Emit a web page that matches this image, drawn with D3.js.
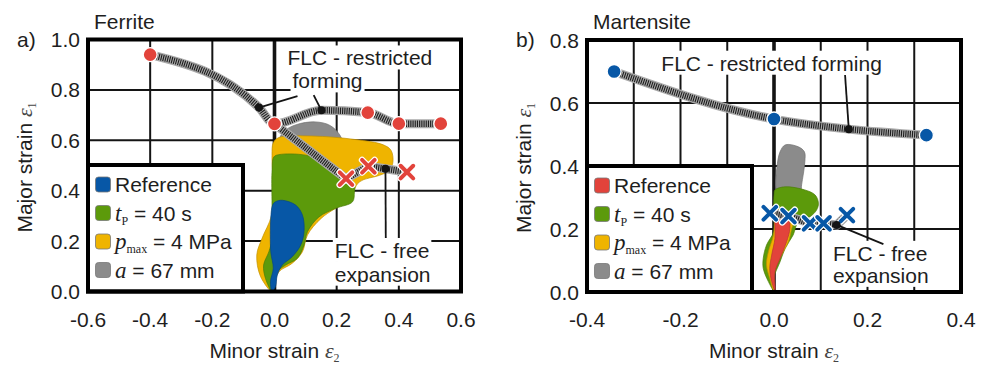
<!DOCTYPE html>
<html>
<head>
<meta charset="utf-8">
<script src="https://cdn.jsdelivr.net/npm/d3@7"></script>
<style>
  html, body { margin: 0; padding: 0; background: #fff; }
  svg { display: block; }
  text { font-family: "Liberation Sans", Arial, sans-serif; fill: #1e1e1e; }
  .math { font-family: "Liberation Serif", "Times New Roman", serif; font-style: italic; }
  .serif { font-family: "Liberation Serif", "Times New Roman", serif; }
</style>
</head>
<body>
<svg id="chart" width="986" height="367"></svg>
<script>
// ---------- tick labels ----------
const ferriteXTicks = [-0.6, -0.4, -0.2, 0.0, 0.2, 0.4, 0.6];
const ferriteYTicks = [0.0, 0.2, 0.4, 0.6, 0.8, 1.0];
const martensiteXTicks = [-0.4, -0.2, 0.0, 0.2, 0.4];
const martensiteYTicks = [0.0, 0.2, 0.4, 0.6, 0.8];

// ---------- legend ----------
const legendKeys = ["ref", "tp", "pmax", "a"];

// ---------- Ferrite: forming limit curves ----------
const ferriteRestrictedX = [-0.40, 0.00, 0.30, 0.40, 0.535];
const ferriteRestrictedY = [0.94, 0.665, 0.71, 0.666, 0.666];
const ferriteRestrictedAnchorX = [-0.05, 0.151];
const ferriteRestrictedAnchorY = [0.73, 0.719];
const ferriteFreeX = [0.23, 0.302, 0.426];
const ferriteFreeY = [0.448, 0.497, 0.474];
const ferriteFreeAnchorX = [0.357];
const ferriteFreeAnchorY = [0.487];

// ---------- Ferrite: measured strain regions ----------
const ferriteGray = [[0.015,0.60],[0.03,0.635],[0.07,0.662],[0.13,0.673],[0.18,0.658],[0.215,0.61],[0.22,0.55],[0.10,0.52],[0.02,0.55]];
const ferriteYellow = [[-0.008,0.0],[-0.045,0.06],[-0.057,0.145],[-0.04,0.211],[-0.01,0.30],[-0.004,0.41],[-0.008,0.54],[-0.004,0.59],[0.014,0.611],[0.12,0.617],[0.26,0.603],[0.35,0.582],[0.375,0.56],[0.381,0.514],[0.37,0.481],[0.338,0.461],[0.273,0.435],[0.24,0.37],[0.15,0.29],[0.106,0.224],[0.09,0.158],[0.057,0.112],[0.014,0.078],[-0.002,0.026]];
const ferriteGreen = [[-0.002,0.534],[0.014,0.543],[0.10,0.541],[0.176,0.508],[0.219,0.474],[0.257,0.428],[0.257,0.395],[0.251,0.356],[0.197,0.33],[0.143,0.296],[0.106,0.237],[0.095,0.184],[0.073,0.131],[0.036,0.105],[0.009,0.078],[-0.002,0.019],[-0.008,0.0],[-0.029,0.052],[-0.035,0.105],[-0.018,0.158],[-0.008,0.211],[-0.008,0.343],[-0.008,0.474]];
const ferriteBlue = [[0.003,0.356],[0.025,0.362],[0.068,0.343],[0.09,0.303],[0.095,0.237],[0.084,0.184],[0.057,0.138],[0.025,0.105],[0.009,0.065],[0.003,0.019],[-0.008,0.0],[-0.013,0.039],[-0.004,0.092],[-0.012,0.158],[-0.012,0.29],[-0.006,0.343]];

// ---------- Martensite: forming limit curves ----------
const martensiteRestrictedX = [-0.342, 0.00, 0.326];
const martensiteRestrictedY = [0.70, 0.549, 0.498];
const martensiteRestrictedAnchorX = [0.16];
const martensiteRestrictedAnchorY = [0.517];
const martensiteFreeX = [-0.009, 0.031, 0.077, 0.106, 0.156];
const martensiteFreeY = [0.25, 0.241, 0.218, 0.218, 0.244];
const martensiteFreeAnchorX = [0.134];
const martensiteFreeAnchorY = [0.213];

// ---------- Martensite: measured strain regions ----------
const martensiteGray = [[0.004,0.33],[0.006,0.393],[0.013,0.445],[0.024,0.467],[0.052,0.461],[0.065,0.445],[0.066,0.414],[0.059,0.34],[0.055,0.30],[0.01,0.30]];
const martensiteGreen = [[0.002,0.324],[0.024,0.334],[0.066,0.324],[0.088,0.308],[0.095,0.282],[0.091,0.26],[0.077,0.239],[0.052,0.223],[0.041,0.181],[0.024,0.139],[0.013,0.096],[-0.001,0.043],[-0.001,0.006],[-0.012,0.033],[-0.023,0.075],[-0.023,0.107],[-0.016,0.149],[-0.001,0.191],[-0.001,0.255],[0.0,0.308]];
const martensiteYellow = [[0.006,0.26],[0.031,0.255],[0.045,0.239],[0.038,0.202],[0.031,0.16],[0.016,0.117],[0.002,0.075],[-0.001,0.006],[-0.009,0.043],[-0.016,0.086],[-0.012,0.128],[-0.001,0.181],[0.002,0.234]];
const martensiteRed = [[0.002,0.244],[0.016,0.244],[0.031,0.234],[0.034,0.202],[0.027,0.16],[0.013,0.107],[0.002,0.064],[0.002,0.006],[-0.005,0.033],[-0.009,0.075],[-0.005,0.117],[0.002,0.17],[0.002,0.213]];

// ---------- colours ----------
const C = {
  blue: "#0757a6", red: "#e2433b", green: "#5c9a0b", yellow: "#efb400", gray: "#8b8b8b",
  ink: "#141414"
};

const svg = d3.select("#chart");
svg.append("rect").attr("width", 986).attr("height", 367).attr("fill", "#fff");

const zip = (xs, ys) => xs.map((v, i) => [v, ys[i]]);

function crossPath(s) {
  return `M${-s},${-s}L${s},${s}M${-s},${s}L${s},${-s}`;
}

// Thick grey band with fine black cross-hatching for the forming limit curves
function hatchedLine(g, d) {
  g.append("path").attr("d", d).attr("fill", "none")
    .attr("stroke", "#a9a9a9").attr("stroke-width", 9).attr("stroke-linecap", "round");
  g.append("path").attr("d", d).attr("fill", "none")
    .attr("stroke", "#1c1c1c").attr("stroke-width", 6.5).attr("stroke-dasharray", "1.1,1.1");
}

// Rich legend label text
function legendText(t, key) {
  if (key === "ref") { t.text("Reference"); return; }
  if (key === "tp") {
    t.append("tspan").attr("class", "math").attr("font-size", 23).text("t");
    t.append("tspan").attr("class", "serif").attr("font-size", 12).attr("dy", 4).text("P");
    t.append("tspan").attr("dy", -4).text(" = 40 s");
    return;
  }
  if (key === "pmax") {
    t.append("tspan").attr("class", "math").attr("font-size", 23).text("p");
    t.append("tspan").attr("class", "serif").attr("font-size", 12).attr("dy", 4).text("max");
    t.append("tspan").attr("dy", -4).text(" = 4 MPa");
    return;
  }
  t.append("tspan").attr("class", "math").attr("font-size", 23).text("a");
  t.append("tspan").text(" = 67 mm");
}

function axisTitle(g, main, sub) {
  g.append("tspan").text(main);
  g.append("tspan").attr("class", "math").attr("font-size", 22).attr("fill", "#444").text("\u03B5");
  g.append("tspan").attr("class", "serif").attr("font-size", 12).attr("fill", "#444").attr("dy", 3.5).text(sub);
}

function drawPanel(cfg) {
  const x = d3.scaleLinear().domain(cfg.xDomain).range([cfg.left, cfg.right]);
  const y = d3.scaleLinear().domain(cfg.yDomain).range([cfg.bottom, cfg.top]);
  const layer = () => svg.append("g");
  const gGrid = layer(), gBg = layer(), gLegend = layer(), gShapes = layer(),
        gLines = layer(), gLead = layer(), gMarks = layer(), gText = layer(), gFrame = layer();

  // grid
  const eps = 1e-9;
  x.ticks(cfg.xGridCount).filter(v => v > cfg.xDomain[0] + eps && v < cfg.xDomain[1] - eps && Math.abs(v) > eps)
    .forEach(v => gGrid.append("line").attr("x1", x(v)).attr("x2", x(v)).attr("y1", cfg.top).attr("y2", cfg.bottom)
      .attr("stroke", C.ink).attr("stroke-width", 2));
  y.ticks(cfg.yGridCount).filter(v => v > cfg.yDomain[0] + eps && v < cfg.yDomain[1] - eps)
    .forEach(v => gGrid.append("line").attr("y1", y(v)).attr("y2", y(v)).attr("x1", cfg.left).attr("x2", cfg.right)
      .attr("stroke", C.ink).attr("stroke-width", 2));
  gGrid.append("line").attr("x1", x(0)).attr("x2", x(0)).attr("y1", cfg.top).attr("y2", cfg.bottom)
    .attr("stroke", C.ink).attr("stroke-width", 3.6);

  // legend
  const lg = gLegend;
  lg.append("rect").attr("x", cfg.left).attr("y", cfg.legendTop)
    .attr("width", cfg.legendRight - cfg.left).attr("height", cfg.bottom - cfg.legendTop)
    .attr("fill", "#fff").attr("stroke", "#000").attr("stroke-width", 4);
  legendKeys.forEach((k, i) => {
    const cy = cfg.legendTop + 19.5 + i * 28.5;
    lg.append("rect").attr("x", cfg.left + 7.5).attr("y", cy - 7.5).attr("width", 15).attr("height", 15)
      .attr("rx", 3).attr("fill", cfg.legendColors[i]).attr("stroke", "#777").attr("stroke-width", 0.8);
    const t = lg.append("text").attr("x", cfg.left + 27).attr("y", cy + 7.5).attr("font-size", 21);
    legendText(t, k);
  });

  // strain regions
  const area = d3.line().x(d => x(d[0])).y(d => y(d[1])).curve(d3.curveCatmullRomClosed.alpha(0.5));
  cfg.regions.forEach(r => {
    gShapes.append("path").attr("d", area(r.pts)).attr("fill", r.color)
      .attr("stroke", d3.color(r.color).darker(0.6)).attr("stroke-width", 0.7);
  });

  // forming limit curves
  const restricted = zip(cfg.restrictedX, cfg.restrictedY);
  const rAnchors = zip(cfg.rAnchorX, cfg.rAnchorY);
  const rNodes = restricted.concat(rAnchors).sort((a, b) => a[0] - b[0]);
  const smooth = d3.line().x(d => x(d[0])).y(d => y(d[1])).curve(d3.curveMonotoneX);
  hatchedLine(gLines, smooth(rNodes));

  const free = zip(cfg.freeX, cfg.freeY);
  const fAnchors = zip(cfg.fAnchorX, cfg.fAnchorY);
  let fNodes = free.concat(fAnchors).sort((a, b) => a[0] - b[0]);
  if (cfg.freeFromRestricted) fNodes = [restricted[cfg.freeFromRestricted]].concat(fNodes);
  const straight = d3.line().x(d => x(d[0])).y(d => y(d[1])).curve(d3.curveLinear);
  hatchedLine(gLines, straight(fNodes));

  // markers
  restricted.forEach(p => gMarks.append("circle").attr("cx", x(p[0])).attr("cy", y(p[1])).attr("r", 7)
    .attr("fill", cfg.markColor).attr("stroke", "#fff").attr("stroke-width", 1.4));
  free.forEach(p => {
    const g = gMarks.append("g").attr("transform", `translate(${x(p[0])},${y(p[1])})`);
    g.append("path").attr("d", crossPath(6.3)).attr("stroke", "#fff").attr("stroke-width", 6.5).attr("stroke-linecap", "round");
    g.append("path").attr("d", crossPath(6.3)).attr("stroke", cfg.markColor).attr("stroke-width", 4).attr("stroke-linecap", "round");
  });

  // annotations
  cfg.notes.forEach(n => {
    n.lines.forEach(l => {
      const t = gText.append("text").attr("x", x(l.x)).attr("y", y(l.y)).attr("font-size", 21).text(l.text);
      const b = t.node().getBBox();
      gBg.append("rect").attr("x", b.x - 2).attr("y", b.y - 1).attr("width", b.width + 4).attr("height", b.height + 1)
        .attr("fill", "#fff");
    });
    n.leaders.forEach(ld => {
      const a = ld.anchor;
      gLead.append("line").attr("x1", x(ld.from[0])).attr("y1", y(ld.from[1]))
        .attr("x2", x(a[0])).attr("y2", y(a[1])).attr("stroke", C.ink).attr("stroke-width", 1.8);
      gMarks.append("circle").attr("cx", x(a[0])).attr("cy", y(a[1])).attr("r", 4).attr("fill", C.ink);
    });
  });

  // frame
  gFrame.append("rect").attr("x", cfg.left).attr("y", cfg.top)
    .attr("width", cfg.right - cfg.left).attr("height", cfg.bottom - cfg.top)
    .attr("fill", "none").attr("stroke", "#000").attr("stroke-width", 4);

  // tick labels
  cfg.xTicks.forEach(v => gFrame.append("text").attr("x", x(v)).attr("y", cfg.bottom + 35)
    .attr("text-anchor", "middle").attr("font-size", 21).text(v.toFixed(1)));
  cfg.yTicks.forEach(v => gFrame.append("text").attr("x", cfg.left - 8).attr("y", y(v) + 7.5)
    .attr("text-anchor", "end").attr("font-size", 21).text(v.toFixed(1)));

  // titles
  const xt = gFrame.append("text").attr("x", x(0)).attr("y", 358).attr("text-anchor", "middle").attr("font-size", 21);
  axisTitle(xt, "Minor strain ", "2");
  const yt = gFrame.append("text").attr("transform", `translate(${cfg.left - 56},${(cfg.top + cfg.bottom) / 2 + 2}) rotate(-90)`)
    .attr("text-anchor", "middle").attr("font-size", 21);
  axisTitle(yt, "Major strain ", "1");
  gFrame.append("text").attr("x", cfg.left - 71).attr("y", 47).attr("font-size", 21).text(cfg.letter);
  gFrame.append("text").attr("x", cfg.left + 6).attr("y", 29).attr("font-size", 21).text(cfg.title);
}

// Panel a) Ferrite
drawPanel({
  letter: "a)", title: "Ferrite",
  left: 88, right: 461, top: 39.5, bottom: 291.5,
  xDomain: [-0.6, 0.6], yDomain: [0, 1], xGridCount: 6, yGridCount: 5,
  xTicks: ferriteXTicks, yTicks: ferriteYTicks,
  legendTop: 165, legendRight: 243,
  legendColors: [C.blue, C.green, C.yellow, C.gray],
  regions: [
    { pts: ferriteGray, color: C.gray },
    { pts: ferriteYellow, color: C.yellow },
    { pts: ferriteGreen, color: C.green },
    { pts: ferriteBlue, color: C.blue }
  ],
  restrictedX: ferriteRestrictedX, restrictedY: ferriteRestrictedY,
  rAnchorX: ferriteRestrictedAnchorX, rAnchorY: ferriteRestrictedAnchorY,
  freeX: ferriteFreeX, freeY: ferriteFreeY,
  fAnchorX: ferriteFreeAnchorX, fAnchorY: ferriteFreeAnchorY,
  freeFromRestricted: 1,
  markColor: C.red,
  notes: [
    { lines: [{ text: "FLC - restricted", x: 0.042, y: 0.897 }, { text: "forming", x: 0.058, y: 0.806 }],
      leaders: [
        { from: [0.074, 0.775], anchor: [ferriteRestrictedAnchorX[0], ferriteRestrictedAnchorY[0]] },
        { from: [0.126, 0.779], anchor: [ferriteRestrictedAnchorX[1], ferriteRestrictedAnchorY[1]] }
      ] },
    { lines: [{ text: "FLC - free", x: 0.194, y: 0.133 }, { text: "expansion", x: 0.194, y: 0.039 }],
      leaders: [{ from: [0.358, 0.212], anchor: [ferriteFreeAnchorX[0], ferriteFreeAnchorY[0]] }] }
  ]
});

// Panel b) Martensite
drawPanel({
  letter: "b)", title: "Martensite",
  left: 587, right: 961, top: 40, bottom: 292,
  xDomain: [-0.4, 0.4], yDomain: [0, 0.8], xGridCount: 8, yGridCount: 4,
  xTicks: martensiteXTicks, yTicks: martensiteYTicks,
  legendTop: 166, legendRight: 752,
  legendColors: [C.red, C.green, C.yellow, C.gray],
  regions: [
    { pts: martensiteGray, color: C.gray },
    { pts: martensiteGreen, color: C.green },
    { pts: martensiteYellow, color: C.yellow },
    { pts: martensiteRed, color: C.red }
  ],
  restrictedX: martensiteRestrictedX, restrictedY: martensiteRestrictedY,
  rAnchorX: martensiteRestrictedAnchorX, rAnchorY: martensiteRestrictedAnchorY,
  freeX: martensiteFreeX, freeY: martensiteFreeY,
  fAnchorX: martensiteFreeAnchorX, fAnchorY: martensiteFreeAnchorY,
  freeFromRestricted: null,
  markColor: C.blue,
  notes: [
    { lines: [{ text: "FLC - restricted forming", x: -0.241, y: 0.7025 }],
      leaders: [{ from: [0.152, 0.689], anchor: [martensiteRestrictedAnchorX[0], martensiteRestrictedAnchorY[0]] }] },
    { lines: [{ text: "FLC - free", x: 0.126, y: 0.099 }, { text: "expansion", x: 0.126, y: 0.029 }],
      leaders: [{ from: [0.234, 0.152], anchor: [martensiteFreeAnchorX[0], martensiteFreeAnchorY[0]] }] }
  ]
});
</script>
</body>
</html>
